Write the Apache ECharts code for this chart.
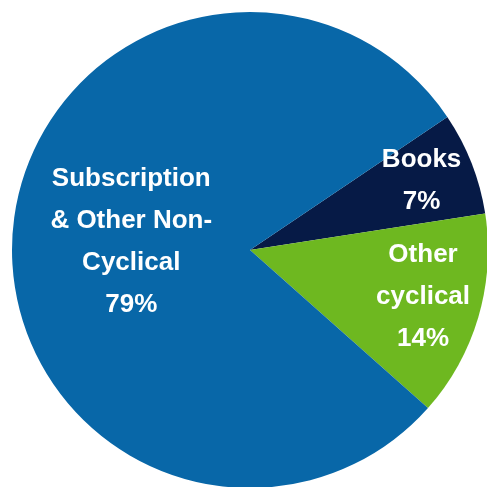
<!DOCTYPE html>
<html>
<head>
<meta charset="utf-8">
<script src="https://cdn.jsdelivr.net/npm/echarts@6/dist/echarts.min.js"></script>
<style>
  html, body { margin: 0; padding: 0; background: #ffffff; }
  #container { width: 487px; height: 487px; }
</style>
</head>
<body>
<div id="container"></div>
<script>
// 数据
var categories = ['Books', 'Other\ncyclical', 'Subscription\n& Other Non-\nCyclical']
var shares = [7, 14, 79]
var sliceColors = ['#061a46', '#6eb820', '#0867a8']
// label nudges from the default "inside" spot
var labelShift = [[58, -25], [56, 12], [3, 0]]

var chart = echarts.init(document.getElementById('container'))

var pieData = []
for (var i = 0; i < categories.length; i++) {
  pieData.push({ name: categories[i], value: shares[i], itemStyle: { color: sliceColors[i] } })
}

chart.setOption({
  animation: false,
  backgroundColor: '#ffffff',
  series: [
    {
      type: 'pie',
      center: [250, 250],
      radius: 238,
      startAngle: 34,
      clockwise: true,
      data: pieData,
      itemStyle: { borderWidth: 0 },
      label: {
        show: true,
        position: 'inside',
        formatter: '{b}\n{c}%',
        color: '#ffffff',
        fontFamily: 'Liberation Sans',
        fontWeight: 'bold',
        fontSize: 26,
        lineHeight: 42,
        align: 'center'
      },
      labelLine: { show: false },
      labelLayout: function(params) {
        var s = labelShift[params.dataIndex]
        return { dx: s[0], dy: s[1] }
      }
    }
  ]
})
</script>
</body>
</html>
